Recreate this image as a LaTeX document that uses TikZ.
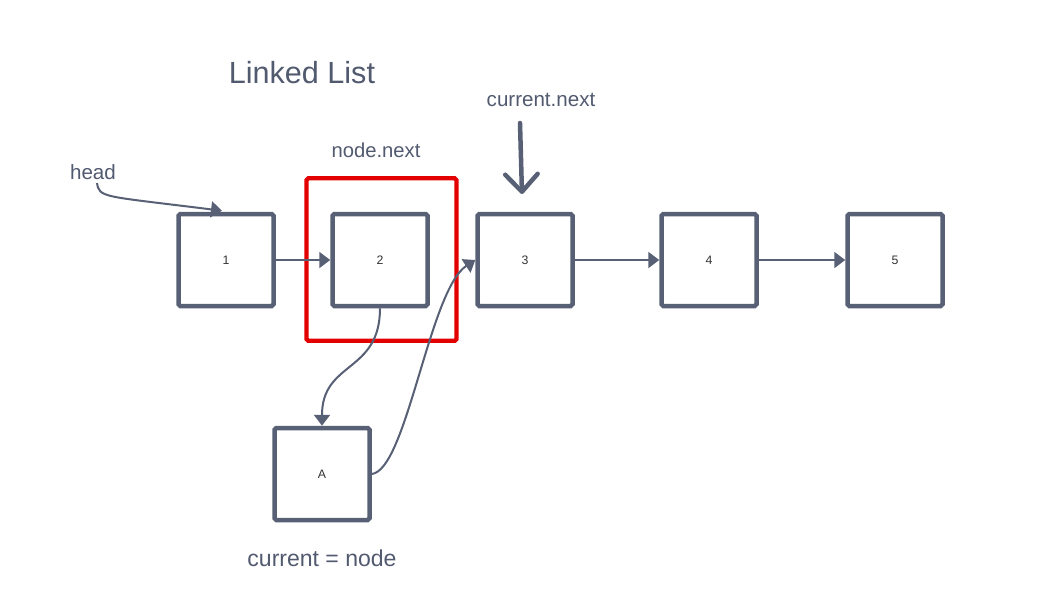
\documentclass[tikz,border=0pt]{standalone}
\usepackage{fontspec}
\setmainfont{Liberation Sans}
\usepackage{tikz}
\usetikzlibrary{arrows.meta,positioning,calc}
\usepackage{xcolor}
\definecolor{llslate}{RGB}{88,96,118}
\definecolor{lltext}{RGB}{82,90,112}
\definecolor{llred}{RGB}{226,0,0}
\tikzset{
    listbox/.style={
        draw=llslate,line width=0.09cm,rounded corners=1pt,fill=white,
        minimum width=1.9cm,minimum height=1.84cm,inner sep=0pt,
        font=\fontsize{7}{8}\selectfont,text=black!80
    },
    mark box/.style={
        draw=llred,line width=0.085cm,rounded corners=1pt,
        minimum width=3.0cm,minimum height=3.25cm,inner sep=0pt
    },
    caption/.style={
        text=lltext,inner sep=1pt,font=\fontsize{#1}{#1}\selectfont
    },
    caption/.default=11.7,
    link/.style={
        -{Triangle[length=2.2mm,width=3.2mm]},line width=0.04cm,draw=llslate
    },
    pointer/.style={
        -{Straight Barb[length=3.5mm,width=6.5mm,round]},
        line width=0.09cm,line cap=round,draw=llslate
    }
}

\begin{document}
\begin{tikzpicture}
\useasboundingbox[fill=white] (0,0) rectangle (20.92,-12.14);

% highlight round the second node
\node[mark box] (mark) at (7.63,-5.19) {};

% the list
\node[listbox] (b1) at (4.52,-5.20) {1};
\node[listbox] (b2) at (7.60,-5.20) {2};
\node[listbox] (b3) at (10.50,-5.20) {3};
\node[listbox] (b4) at (14.18,-5.20) {4};
\node[listbox] (b5) at (17.90,-5.20) {5};
\node[listbox] (bA) at (6.44,-9.48) {A};

% captions
\node[caption=17.4] (title) at (6.04,-1.46) {Linked List};
\node[caption] (curnext) at (10.82,-2.00) {current.next};
\node[caption=11.5] (nodenext) at (7.52,-3.00) {node.next};
\node[caption] (head) at (1.86,-3.44) {head};
\node[caption=13.1] (curnode) at (6.44,-11.16) {current = node};

\coordinate (headtail) at (1.94,-3.66);
\coordinate (headtip) at ($(b1.north)+(-0.08,0.02)$);
\coordinate (curtail) at (10.40,-2.46);
\coordinate (curtip) at (10.44,-3.88);

% connectors
\draw[link] (b1) -- (b2);
\draw[link] (b3) -- (b4);
\draw[link] (b4) -- (b5);
\draw[link] (b2.south) .. controls +(0,-1.3) and +(0,1.3) .. (bA.north);
\draw[link] (bA.east) .. controls +(0.7,0.08) and +(-0.92,-0.6) .. (b3.west);
\draw[link] (headtail) .. controls +(0.05,-0.3) and +(-2.4,0.3) .. (headtip);
\draw[pointer] (curtail) -- (curtip);

\end{tikzpicture}
\end{document}
